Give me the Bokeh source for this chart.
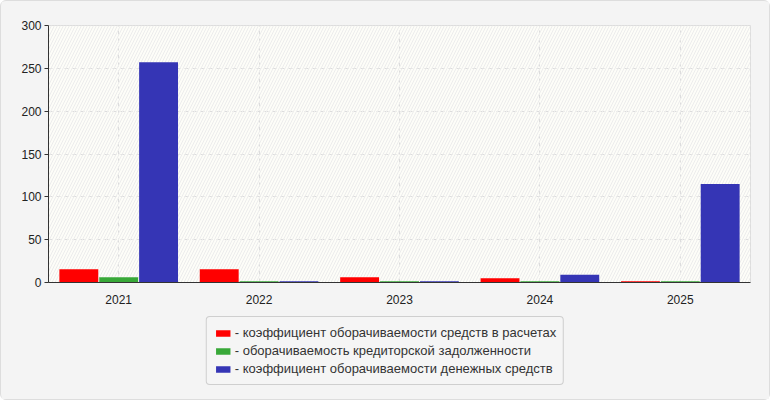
from bokeh.plotting import figure
from bokeh.layouts import column
from bokeh.models import ColumnDataSource, FactorRange, Legend, LegendItem, BoxAnnotation, Range1d
from bokeh.transform import dodge
from bokeh.embed import file_html
from bokeh.resources import INLINE

years = ["2021", "2022", "2023", "2024", "2025"]
receivables_turnover = [15.5, 15.5, 6, 5, 1.5]
payables_turnover = [6, 1.5, 1.5, 1.5, 1.5]
cash_turnover = [257, 1.5, 1.5, 9, 115]
y_ticks = [0, 50, 100, 150, 200, 250, 300]
series_labels = [
    "- коэффициент оборачиваемости средств в расчетах",
    "- оборачиваемость кредиторской задолженности",
    "- коэффициент оборачиваемости денежных средств",
]
series_colors = ["#ff0000", "#38a838", "#3535b5"]

src = ColumnDataSource(dict(year=years, r=receivables_turnover,
                            g=payables_turnover, b=cash_turnover))

FONT = "Liberation Sans"
BG = "#f4f4f4"

p = figure(x_range=FactorRange(*years), y_range=(0, 300),
           frame_width=702, frame_height=257, output_backend="svg", toolbar_location=None,
           min_border_left=47, min_border_right=19, min_border_top=24,
           min_border_bottom=27)
p.border_fill_color = BG
p.background_fill_color = "#fdfdf8"
p.outline_line_color = "#dddddd"

hatch = BoxAnnotation(fill_alpha=0, line_alpha=0, hatch_pattern="/",
                      hatch_color="#ececec", hatch_alpha=1.0, hatch_scale=6,
                      hatch_weight=1, level="underlay")
p.add_layout(hatch)

offsets = [-0.284, 0.0, 0.284]
fields = ["r", "g", "b"]
for off, f, c in zip(offsets, fields, series_colors):
    p.vbar(x=dodge("year", off, range=p.x_range), top=f, width=0.277,
           source=src, fill_color=c, line_color=None)

p.yaxis.ticker = y_ticks
p.xgrid.grid_line_color = "#dddddd"
p.xgrid.grid_line_dash = "4 4"
p.ygrid.grid_line_color = "#dddddd"
p.ygrid.grid_line_dash = "4 4"

for ax in (p.xaxis[0], p.yaxis[0]):
    ax.axis_line_color = "#333333"
    ax.major_label_text_font = FONT
    ax.major_label_text_font_size = "12px"
    ax.major_label_text_color = "#222222"
    ax.minor_tick_line_color = None
p.yaxis.major_tick_line_color = "#333333"
p.yaxis.major_tick_out = 4
p.yaxis.major_tick_in = 0
p.yaxis.major_label_standoff = 3
p.xaxis.major_tick_line_color = None
p.xaxis.major_label_standoff = 6

# legend panel (its swatch renderers sit outside its visible ranges)
lg = figure(frame_width=768, frame_height=90, output_backend="svg", toolbar_location=None,
            min_border=0, x_axis_location=None, y_axis_location=None,
            x_range=Range1d(-20, -10), y_range=Range1d(-20, -10))
lg.border_fill_color = BG
lg.background_fill_color = BG
lg.outline_line_color = None
lg.grid.visible = False
swatches = []
for f, c in zip(fields, series_colors):
    swatches.append(lg.vbar(x=f, top=f, width=1, source=src, fill_color=c, line_color=None))

legend = Legend(items=[LegendItem(label=l, renderers=[r]) for l, r in zip(series_labels, swatches)],
                location="top_center", orientation="vertical")
legend.label_text_font = FONT
legend.label_text_font_size = "13px"
legend.label_text_color = "#333333"
legend.glyph_width = 18
legend.glyph_height = 8
legend.label_height = 17
legend.label_standoff = 3
legend.spacing = 1
legend.padding = 7
legend.margin = 7
legend.border_line_color = "#aaaaaa"
legend.background_fill_color = "#f5f5f5"
legend.background_fill_alpha = 1.0
if "border_radius" in Legend.properties():
    legend.border_radius = 4
lg.add_layout(legend)

layout = column(p, lg, spacing=0,
                styles={"border": "1px solid #dddddd", "border-radius": "6px",
                        "background-color": BG})

open("out.html", "w").write(file_html(layout, INLINE))
